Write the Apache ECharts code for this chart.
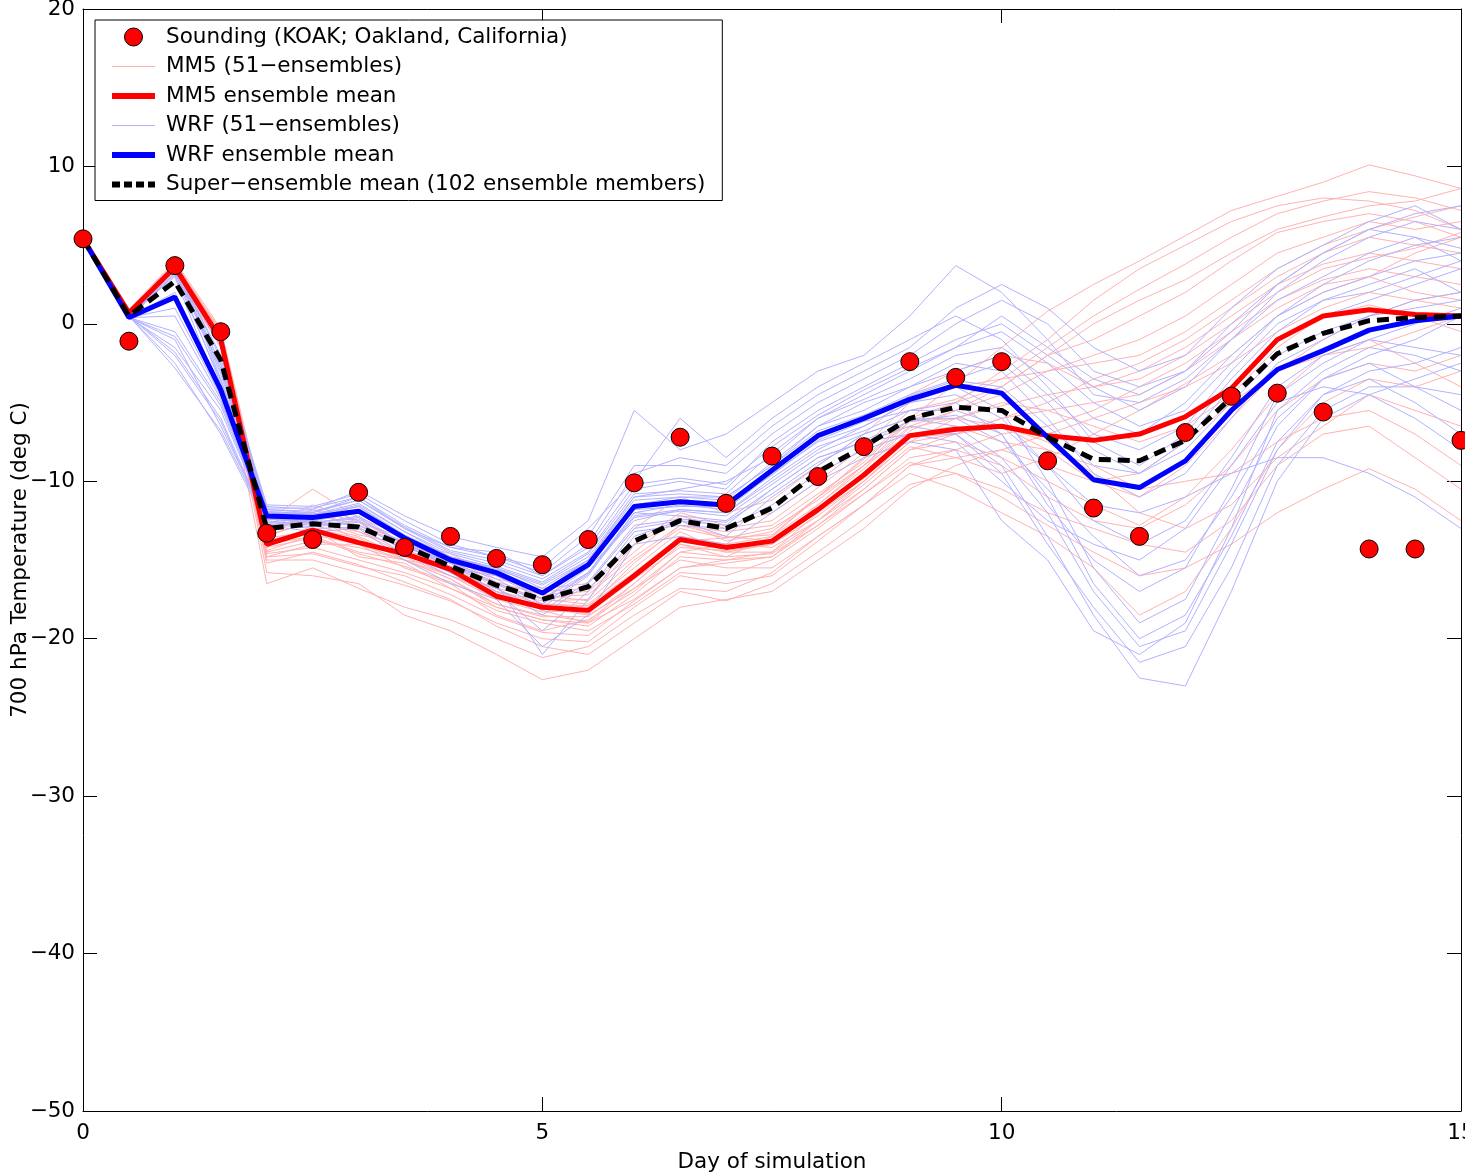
<!DOCTYPE html>
<html>
<head>
<meta charset="utf-8">
<script src="https://cdn.jsdelivr.net/npm/echarts@6/dist/echarts.min.js"></script>
<style>
html,body{margin:0;padding:0;background:#fff;}
#chart{width:1465px;height:1174px;}
</style>
</head>
<body>
<div id="chart"></div>
<script>
// ---- data ----
const days = [0,0.5,1,1.5,2,2.5,3,3.5,4,4.5,5,5.5,6,6.5,7,7.5,8,8.5,9,9.5,10,10.5,11,11.5,12,12.5,13,13.5,14,14.5,15];

const sounding = [5.4,-1.1,3.7,-0.5,-13.3,-13.7,-10.7,-14.2,-13.5,-14.9,-15.3,-13.7,-10.1,-7.2,-11.4,-8.4,-9.7,-7.8,-2.4,-3.4,-2.4,-8.7,-11.7,-13.5,-6.9,-4.6,-4.4,-5.6,-14.3,-14.3,-7.4];

const mm5Mean = [5.4,0.7,3.6,-1.0,-14.0,-13.1,-13.9,-14.6,-15.6,-17.3,-18.0,-18.2,-16.0,-13.7,-14.2,-13.8,-11.8,-9.6,-7.1,-6.7,-6.5,-7.1,-7.4,-7.0,-5.9,-4.1,-1.0,0.5,0.9,0.6,0.5];
const wrfMean = [5.4,0.4,1.7,-4.2,-12.2,-12.3,-11.9,-13.6,-15.0,-15.8,-17.1,-15.3,-11.6,-11.3,-11.5,-9.3,-7.1,-6.0,-4.8,-3.9,-4.4,-7.2,-9.9,-10.4,-8.7,-5.5,-2.9,-1.7,-0.4,0.2,0.5];
const superMean = [5.4,0.5,2.7,-2.3,-13.0,-12.7,-12.9,-14.1,-15.4,-16.6,-17.5,-16.7,-13.8,-12.5,-13.0,-11.7,-9.4,-7.8,-6.0,-5.3,-5.5,-7.2,-8.6,-8.7,-7.4,-4.7,-1.9,-0.6,0.2,0.4,0.5];

const mm5Members = [
  [5.4,0.8,3.9,-0.5,-13.2,-12.0,-13.0,-13.8,-14.6,-16.0,-17.2,-17.0,-14.5,-12.2,-13.0,-12.5,-10.4,-8.2,-5.5,-4.8,-3.5,-1.5,0.5,2.2,3.8,5.5,7.0,7.8,8.4,8.0,7.2],
  [5.4,0.6,3.5,-0.9,-14.5,-13.8,-14.2,-15.0,-16.2,-17.8,-18.5,-18.9,-16.5,-14.0,-14.8,-13.5,-11.0,-8.5,-6.0,-3.8,-1.5,0.8,2.5,4.0,5.6,7.2,8.1,9.0,10.1,9.4,8.6],
  [5.4,0.7,3.4,-1.2,-15.2,-14.5,-15.3,-16.4,-17.5,-19.2,-20.5,-21.0,-19.0,-17.0,-17.6,-16.5,-14.5,-12.4,-10.2,-9.5,-11.0,-12.8,-14.5,-16.0,-15.5,-14.0,-12.0,-10.5,-9.2,-10.5,-12.5],
  [5.4,0.9,4.0,-0.3,-12.5,-10.5,-12.3,-13.5,-14.8,-16.2,-16.8,-16.5,-13.0,-11.0,-12.0,-11.2,-9.0,-7.0,-4.5,-3.0,-2.0,-2.5,-4.0,-3.0,-1.5,0.5,2.5,3.8,4.5,4.0,3.5],
  [5.4,0.6,3.7,-0.7,-14.0,-13.5,-14.5,-15.0,-15.5,-17.0,-18.2,-19.0,-17.5,-15.5,-15.0,-14.8,-12.8,-10.5,-8.0,-7.5,-8.5,-10.0,-11.5,-12.8,-11.0,-8.0,-4.5,-2.0,-1.0,-2.5,-4.0],
  [5.4,0.5,3.2,-1.5,-16.5,-15.5,-16.8,-18.0,-18.8,-20.0,-21.2,-20.5,-18.5,-16.8,-17.0,-15.8,-13.5,-11.5,-9.0,-8.0,-7.0,-6.5,-5.5,-4.0,-2.5,-0.5,1.5,2.8,3.5,3.0,2.5],
  [5.4,0.8,3.8,-0.6,-13.5,-12.5,-13.2,-14.2,-15.8,-17.5,-17.8,-18.0,-15.2,-12.8,-13.5,-13.8,-12.0,-10.0,-7.5,-6.0,-5.0,-5.5,-6.5,-7.5,-6.5,-4.5,-1.5,0.5,1.2,0.5,-0.5],
  [5.4,0.7,3.6,-1.0,-14.8,-14.0,-14.0,-15.5,-16.5,-18.5,-19.5,-18.8,-17.0,-14.5,-14.0,-14.2,-12.5,-10.2,-7.8,-8.5,-9.5,-8.5,-7.0,-5.5,-3.8,-2.0,0.5,2.0,3.0,4.5,5.5],
  [5.4,0.6,3.5,-0.8,-15.8,-16.0,-16.5,-18.5,-19.5,-21.0,-22.6,-22.0,-20.0,-18.0,-17.5,-17.0,-15.0,-13.0,-10.5,-9.0,-8.0,-9.0,-10.0,-9.5,-7.5,-5.0,-3.0,-2.0,-1.5,-0.5,0.5],
  [5.4,0.8,3.7,-0.4,-12.8,-11.5,-12.5,-14.0,-15.0,-16.5,-17.5,-17.8,-15.5,-13.2,-14.5,-14.0,-11.5,-9.0,-6.5,-5.5,-4.5,-3.0,-2.0,-1.0,0.5,2.5,4.5,5.5,6.5,6.0,6.5],
  [5.4,0.7,3.8,-0.9,-14.2,-12.8,-13.5,-14.8,-16.0,-17.2,-18.0,-18.5,-16.8,-15.0,-15.5,-15.5,-13.5,-11.5,-9.5,-10.5,-12.0,-13.5,-15.5,-18.5,-17.0,-13.0,-8.0,-5.0,-3.5,-4.0,-3.0],
  [5.4,0.6,3.4,-1.3,-13.8,-13.0,-14.8,-15.2,-16.8,-18.0,-18.8,-19.2,-17.2,-14.8,-15.0,-14.5,-12.0,-9.5,-6.8,-5.5,-4.0,-2.0,0.0,1.5,2.8,4.5,6.0,6.8,7.5,7.8,8.6],
  [5.4,0.7,3.6,-0.6,-13.0,-12.2,-13.8,-14.5,-15.2,-17.0,-17.6,-17.5,-14.0,-12.5,-13.8,-13.2,-11.0,-9.0,-7.0,-6.5,-7.5,-8.0,-9.0,-10.5,-10.0,-9.5,-7.5,-6.0,-5.5,-7.0,-9.0],
  [5.4,0.8,3.9,-0.7,-14.4,-13.4,-14.0,-15.0,-16.0,-17.5,-18.3,-18.2,-16.2,-14.2,-14.4,-14.0,-12.2,-10.0,-7.2,-7.0,-6.0,-5.0,-3.5,-2.5,-1.0,1.0,3.0,4.5,5.5,5.0,4.5],
  [5.4,0.7,3.7,-0.8,-13.6,-13.2,-14.0,-14.4,-15.4,-17.0,-17.8,-17.9,-15.8,-13.5,-14.0,-13.5,-11.5,-9.2,-6.6,-6.0,-5.2,-4.5,-4.0,-3.5,-2.0,0.0,2.0,3.5,4.2,4.8,5.8],
  [5.4,0.6,3.5,-1.1,-14.6,-14.2,-15.0,-15.8,-16.8,-18.2,-19.0,-19.5,-17.8,-15.8,-16.0,-15.0,-13.0,-10.8,-8.5,-8.0,-9.0,-11.0,-12.5,-13.0,-11.5,-9.0,-5.5,-3.5,-2.5,-3.0,-2.0],
  [5.4,0.8,3.8,-0.5,-13.4,-12.0,-12.8,-13.8,-15.0,-16.8,-17.4,-17.2,-14.8,-12.8,-13.2,-12.8,-10.8,-8.8,-6.0,-5.0,-3.0,-1.0,1.5,3.5,5.0,6.5,7.5,8.0,7.8,7.2,6.0],
  [5.4,0.7,3.6,-0.9,-14.2,-13.6,-14.6,-15.4,-16.4,-17.8,-18.6,-18.6,-16.5,-14.0,-14.5,-14.5,-12.5,-10.5,-8.0,-7.0,-6.5,-7.5,-9.5,-12.0,-13.0,-11.5,-8.5,-6.5,-4.5,-5.5,-6.5],
  [5.4,0.6,3.4,-1.0,-15.0,-15.0,-15.8,-16.6,-17.6,-19.0,-20.0,-20.2,-18.0,-16.0,-16.5,-16.0,-13.8,-11.5,-9.0,-8.5,-8.0,-7.0,-6.0,-5.0,-4.0,-2.5,-0.5,1.0,2.0,1.5,1.0],
  [5.4,0.8,3.9,-0.6,-12.9,-12.4,-13.4,-14.0,-15.2,-16.6,-17.0,-16.8,-14.0,-12.0,-12.8,-12.0,-10.0,-7.8,-5.0,-4.0,-3.5,-3.0,-2.5,-2.0,-0.5,1.5,3.5,5.0,6.0,6.8,7.5],
  [5.4,0.7,3.7,-0.7,-14.0,-13.0,-13.6,-15.0,-16.2,-18.0,-18.8,-19.0,-16.8,-14.5,-14.8,-14.6,-12.8,-10.8,-8.8,-9.5,-10.5,-12.0,-13.0,-14.0,-14.5,-12.5,-9.0,-7.0,-6.5,-8.5,-10.5],
  [5.4,0.7,3.6,-0.8,-13.4,-12.6,-13.2,-14.6,-15.6,-17.2,-18.0,-18.4,-16.2,-13.8,-13.6,-13.0,-11.2,-9.0,-6.2,-5.0,-4.0,-2.0,-1.0,0.5,2.0,4.0,5.8,6.5,7.0,6.5,5.5],
  [5.4,0.6,3.5,-1.1,-14.8,-14.6,-15.4,-16.0,-17.2,-18.6,-19.6,-19.8,-17.6,-15.5,-15.2,-14.8,-12.5,-10.0,-7.5,-7.0,-6.0,-5.5,-5.0,-4.5,-3.0,-1.0,1.0,2.5,3.0,2.0,1.5],
  [5.4,0.8,3.8,-0.5,-13.0,-11.8,-12.6,-13.6,-14.8,-16.4,-17.2,-17.6,-15.0,-13.0,-13.6,-13.4,-11.0,-8.6,-6.2,-6.0,-6.5,-8.0,-10.0,-11.0,-9.0,-6.0,-3.0,-1.0,0.5,1.5,2.0]
];

const wrfMembers = [
  [5.4,0.3,3.5,-1.5,-11.8,-12.0,-11.0,-13.0,-14.2,-14.5,-16.0,-14.0,-9.5,-8.5,-9.0,-6.5,-4.5,-3.0,-1.5,1.0,2.5,1.0,-1.5,-3.0,-2.0,1.0,3.5,5.0,6.5,7.5,6.0],
  [5.4,0.4,-1.0,-6.5,-12.5,-12.8,-12.5,-14.5,-15.8,-16.8,-18.5,-16.5,-13.0,-12.5,-12.8,-10.5,-8.5,-7.5,-6.5,-7.0,-9.0,-13.5,-18.5,-22.5,-23.0,-17.0,-10.0,-6.0,-4.5,-3.5,-2.5],
  [5.4,0.3,3.2,-2.5,-11.6,-11.8,-10.6,-12.2,-13.5,-14.2,-14.8,-12.5,-5.5,-8.0,-7.0,-5.0,-3.0,-2.0,0.5,3.7,2.0,-1.0,-4.5,-5.0,-3.5,-1.0,1.5,3.0,4.5,5.5,4.8],
  [5.4,0.5,-2.5,-7.0,-12.8,-13.2,-13.0,-15.0,-16.5,-17.5,-20.5,-18.5,-14.0,-13.5,-14.0,-12.0,-10.0,-8.5,-7.5,-8.0,-12.5,-15.0,-19.5,-21.0,-19.0,-13.0,-5.5,-3.0,-1.5,-2.0,-3.0],
  [5.4,0.4,3.8,-3.0,-12.0,-12.2,-11.5,-13.2,-14.8,-15.5,-16.5,-14.8,-11.0,-10.5,-10.0,-8.5,-6.0,-4.8,-3.5,-2.0,-1.5,-3.5,-6.0,-7.0,-5.0,-2.0,0.5,2.0,3.0,4.0,4.5],
  [5.4,0.4,-1.5,-5.5,-12.4,-12.5,-12.0,-13.8,-15.5,-16.0,-17.5,-15.5,-12.5,-11.8,-12.0,-10.0,-8.0,-6.5,-5.0,-4.0,-5.5,-10.0,-15.5,-19.0,-17.5,-12.0,-6.5,-3.5,-2.0,-1.0,0.5],
  [5.4,0.3,3.6,-2.0,-11.5,-11.6,-10.8,-12.5,-14.0,-14.8,-15.5,-13.0,-10.0,-6.0,-8.5,-6.0,-4.0,-2.5,-1.0,0.5,-1.0,-4.0,-7.5,-9.0,-7.0,-3.5,-0.5,1.5,2.5,3.5,2.0],
  [5.4,0.5,-2.8,-6.8,-12.6,-12.6,-12.8,-14.2,-15.2,-16.5,-21.0,-17.5,-13.5,-12.5,-13.5,-11.0,-9.0,-7.0,-6.0,-6.5,-8.5,-12.0,-17.0,-20.5,-19.5,-14.0,-8.0,-4.5,-3.5,-5.0,-7.0],
  [5.4,0.4,2.0,-4.0,-12.2,-12.4,-11.8,-13.5,-15.0,-15.8,-17.0,-15.0,-11.5,-11.0,-11.2,-8.8,-6.5,-5.5,-4.0,-2.5,-3.0,-6.0,-9.5,-11.0,-9.5,-6.0,-2.5,-1.0,0.5,1.5,2.0],
  [5.4,0.3,3.9,-3.5,-12.0,-12.0,-11.2,-13.0,-14.5,-15.2,-16.2,-14.5,-10.5,-10.0,-10.5,-7.5,-5.5,-4.0,-2.5,-1.0,0.0,-2.0,-4.0,-5.5,-4.0,-1.0,2.0,4.0,5.5,6.5,6.0],
  [5.4,0.4,-0.5,-5.0,-12.3,-12.7,-12.2,-14.0,-15.5,-16.5,-18.0,-16.0,-12.0,-12.2,-12.5,-10.5,-8.5,-7.5,-7.0,-7.5,-10.0,-12.5,-14.0,-15.0,-13.0,-9.0,-5.0,-4.0,-4.5,-6.0,-8.0],
  [5.4,0.5,3.0,-4.5,-12.4,-12.6,-12.4,-14.0,-15.2,-15.8,-17.5,-15.8,-12.0,-11.5,-11.8,-9.5,-7.5,-6.5,-5.0,-4.5,-6.0,-9.0,-11.5,-12.0,-11.0,-9.5,-8.5,-8.5,-9.5,-11.0,-13.0],
  [5.4,0.4,3.4,-3.8,-12.1,-12.3,-11.6,-13.5,-14.8,-15.5,-16.8,-15.0,-11.2,-11.0,-11.0,-9.0,-6.8,-5.8,-4.5,-3.5,-2.5,-5.0,-8.0,-9.5,-7.5,-4.0,-1.0,0.5,1.5,2.5,3.5],
  [5.4,0.4,3.3,-2.8,-11.9,-12.1,-11.4,-13.2,-14.6,-15.4,-16.4,-14.6,-10.8,-10.6,-10.8,-8.2,-6.0,-4.5,-3.0,-1.5,-0.5,-2.5,-5.0,-6.5,-5.5,-2.5,0.5,2.5,4.0,5.0,5.5],
  [5.4,0.5,-1.8,-6.0,-12.6,-12.9,-12.6,-14.4,-15.8,-16.8,-18.2,-16.4,-12.8,-12.4,-12.6,-10.8,-8.8,-7.4,-6.2,-5.8,-7.0,-11.0,-16.5,-20.0,-18.5,-13.5,-7.5,-4.5,-3.0,-2.5,-1.5],
  [5.4,0.3,3.7,-2.2,-11.7,-11.7,-11.0,-12.8,-14.2,-14.8,-15.8,-13.5,-9.0,-9.0,-9.5,-7.0,-5.0,-3.5,-2.0,0.0,1.5,0.0,-3.0,-4.0,-3.0,0.0,2.5,4.5,6.0,7.0,7.5],
  [5.4,0.4,0.5,-4.8,-12.3,-12.5,-12.0,-13.8,-15.2,-16.2,-17.8,-15.8,-12.2,-11.8,-12.0,-9.8,-7.8,-6.8,-5.5,-5.0,-7.0,-11.5,-15.0,-17.0,-15.5,-10.5,-4.5,-2.5,-1.0,0.0,1.0],
  [5.4,0.4,3.6,-3.2,-12.0,-12.1,-11.6,-13.4,-14.8,-15.6,-16.6,-15.0,-11.0,-10.8,-11.0,-9.0,-6.5,-5.0,-4.0,-3.0,-2.0,-4.5,-7.0,-8.0,-6.5,-3.0,0.0,1.5,2.0,3.0,4.0],
  [5.4,0.5,-2.0,-6.2,-12.7,-13.0,-12.9,-14.6,-16.0,-17.0,-19.5,-17.0,-13.2,-12.8,-13.0,-11.5,-9.5,-8.0,-7.0,-7.0,-9.5,-14.0,-18.0,-21.5,-20.5,-15.5,-9.0,-5.5,-4.0,-4.0,-4.5],
  [5.4,0.3,3.8,-2.6,-11.8,-11.9,-11.2,-12.9,-14.4,-15.0,-16.0,-14.2,-10.2,-9.8,-10.2,-7.8,-5.8,-4.2,-2.8,-1.5,0.5,-1.5,-3.5,-4.5,-3.0,-0.5,2.5,4.5,6.0,5.5,4.0],
  [5.4,0.4,1.0,-4.6,-12.2,-12.4,-12.0,-13.6,-15.1,-16.0,-17.2,-15.4,-11.8,-11.6,-11.6,-9.6,-7.4,-6.2,-5.5,-5.5,-6.5,-9.0,-12.5,-14.0,-12.5,-8.5,-4.0,-2.0,-1.0,-1.5,-2.0],
  [5.4,0.5,3.1,-3.6,-12.2,-12.3,-11.8,-13.7,-14.9,-15.9,-17.0,-15.2,-11.6,-11.2,-11.4,-9.2,-7.0,-5.9,-4.6,-3.6,-4.0,-6.5,-9.0,-9.5,-8.0,-5.0,-2.0,-0.5,0.5,1.0,1.5],
  [5.4,0.4,-0.8,-5.2,-12.4,-12.6,-12.3,-14.1,-15.4,-16.4,-17.8,-15.9,-12.3,-11.9,-12.2,-10.2,-8.2,-7.0,-6.0,-6.0,-7.5,-10.5,-13.5,-16.0,-15.0,-11.0,-6.0,-3.5,-2.5,-4.0,-5.5]
];

const xTicks = [0,5,10,15];
const yTicks = [-50,-40,-30,-20,-10,0,10,20];

const NAME_SOUND = 'Sounding (KOAK; Oakland, California)';
const NAME_MM5 = 'MM5 (51\u2212ensembles)';
const NAME_MM5M = 'MM5 ensemble mean';
const NAME_WRF = 'WRF (51\u2212ensembles)';
const NAME_WRFM = 'WRF ensemble mean';
const NAME_SUP = 'Super\u2212ensemble mean (102 ensemble members)';

// ---- build ----
const pair = arr => arr.map((v,i)=>[days[i], v]);
const FONT = 'DejaVu Sans, sans-serif';
const FS = 21.5;
const THIN_RED = '#ffb2b2', THIN_BLUE = '#b2b2ff';
const series = [];
mm5Members.forEach(m => series.push({
  name: NAME_MM5, type:'line', data: pair(m), symbol:'none', z:1,
  lineStyle:{color:THIN_RED, width:1}, itemStyle:{color:THIN_RED}, silent:true
}));
wrfMembers.forEach(m => series.push({
  name: NAME_WRF, type:'line', data: pair(m), symbol:'none', z:1,
  lineStyle:{color:THIN_BLUE, width:1}, itemStyle:{color:THIN_BLUE}, silent:true
}));
series.push({name: NAME_MM5M, type:'line', data: pair(mm5Mean), symbol:'none', z:3,
  lineStyle:{color:'#ff0000', width:5}, itemStyle:{color:'#ff0000'}});
series.push({name: NAME_WRFM, type:'line', data: pair(wrfMean), symbol:'none', z:4,
  lineStyle:{color:'#0000ff', width:5}, itemStyle:{color:'#0000ff'}});
series.push({name: NAME_SUP, type:'line', data: pair(superMean), symbol:'none', z:5,
  lineStyle:{color:'#000000', width:5, type:[12,7]}, itemStyle:{color:'#000000'}});
series.push({name: NAME_SOUND, type:'scatter', data: pair(sounding), symbol:'circle', symbolSize:18, z:6,
  itemStyle:{color:'#ff0000', borderColor:'#000', borderWidth:1, opacity:1}});

const fmt = v => String(v).replace('-', '\u2212');
const axisCommon = {
  axisLine:{show:true, onZero:false, lineStyle:{color:'#000', width:1}},
  axisTick:{show:true, inside:true, length:14, lineStyle:{color:'#000'}},
  splitLine:{show:false}
};
const hideSym = {opacity:0};

const chart = echarts.init(document.getElementById('chart'), null, {renderer:'canvas'});
chart.setOption({
  animation:false,
  backgroundColor:'#fff',
  grid:{left:83, right:4, top:9, bottom:63, containLabel:false, outerBoundsMode:'none'},
  legend:{
    data:[
      {name:NAME_SOUND, icon:'circle', itemStyle:{color:'#ff0000', borderColor:'#000', borderWidth:1}},
      {name:NAME_MM5, itemStyle:hideSym, lineStyle:{color:THIN_RED, width:1}},
      {name:NAME_MM5M, itemStyle:hideSym, lineStyle:{color:'#ff0000', width:6}},
      {name:NAME_WRF, itemStyle:hideSym, lineStyle:{color:THIN_BLUE, width:1}},
      {name:NAME_WRFM, itemStyle:hideSym, lineStyle:{color:'#0000ff', width:6}},
      {name:NAME_SUP, itemStyle:hideSym, lineStyle:{color:'#000', width:6, type:[8,4]}}
    ],
    orient:'vertical', left:95, top:20,
    padding:[6,17,5,14],
    itemWidth:43, itemHeight:18, itemGap:7.5,
    backgroundColor:'#fff', borderColor:'#000', borderWidth:1, borderRadius:0,
    selectedMode:false,
    textStyle:{fontFamily:FONT, fontSize:FS, color:'#000', lineHeight:22, padding:[0,0,0,6]}
  },
  xAxis:[
    Object.assign({type:'value', min:0, max:15, interval:5, position:'bottom',
      name:'Day of simulation', nameLocation:'middle', nameGap:40,
      nameTextStyle:{fontFamily:FONT, fontSize:FS, color:'#000'},
      axisLabel:{fontFamily:FONT, fontSize:FS, color:'#000', margin:11, showMaxLabel:true, showMinLabel:true}
    }, axisCommon),
    Object.assign({type:'value', min:0, max:15, interval:5, position:'top', axisLabel:{show:false}}, axisCommon)
  ],
  yAxis:[
    Object.assign({type:'value', min:-50, max:20, interval:10, position:'left',
      name:'700 hPa Temperature (deg C)', nameLocation:'middle', nameGap:52, nameMoveOverlap:false,
      nameTextStyle:{fontFamily:FONT, fontSize:FS, color:'#000'},
      axisLabel:{fontFamily:FONT, fontSize:FS, color:'#000', margin:8, formatter: fmt}
    }, axisCommon),
    Object.assign({type:'value', min:-50, max:20, interval:10, position:'right', axisLabel:{show:false}}, axisCommon)
  ],
  series: series
});
</script>
</body>
</html>
